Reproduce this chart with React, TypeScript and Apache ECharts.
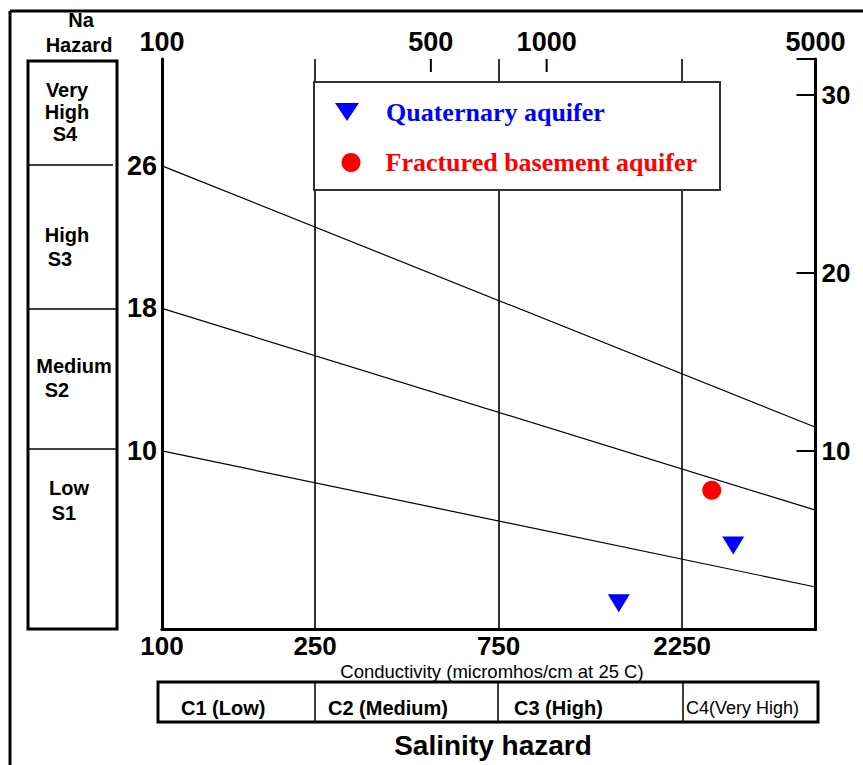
import React, { useEffect, useRef } from 'react';
import * as echarts from 'echarts';

// ---- data ----
const topTickLabels = [100, 500, 1000, 5000];
const topInnerTicks = [500, 1000];
const bottomTickLabels = [100, 250, 750, 2250];
const classBoundariesEC = [250, 750, 2250];
const leftSarLabels = [10, 18, 26];
const rightSarLabels = [10, 20, 30];

const quaternaryAquifer = [
  [1540, 1.44],
  [3056, 4.69],
];
const fracturedBasementAquifer = [[2687, 7.79]];

const boundaryS3S4 = [
  [100, 26],
  [5000, 11.33],
];
const boundaryS2S3 = [
  [100, 18],
  [5000, 6.67],
];
const boundaryS1S2 = [
  [100, 10],
  [5000, 2.36],
];

const salinityClasses = ['C1 (Low)', 'C2 (Medium)', 'C3 (High)', 'C4(Very High)'];
const sodiumClassLines = ['Very', 'High', 'S4', 'High', 'S3', 'Medium', 'S2', 'Low', 'S1'];

const SANS = '"Liberation Sans", Arial, sans-serif';
const SERIF = '"Liberation Serif", "Times New Roman", serif';

export default function App() {
  const ref = useRef<HTMLDivElement>(null);

  useEffect(() => {
    document.body.style.margin = '0';
    if (!ref.current) return;
    const chart = echarts.init(ref.current, undefined, { renderer: 'svg' });

    const axisLabelBase = {
      color: '#000',
      fontFamily: SANS,
      fontWeight: 'bold' as const,
      fontSize: 27,
    };

    const txt = (text: string, x: number, y: number, font: string, align = 'center') => ({
      type: 'text',
      x,
      y,
      z: 20,
      style: { text, font, fill: '#000', align, verticalAlign: 'middle' },
    });
    const ln = (x1: number, y1: number, x2: number, y2: number, w: number) => ({
      type: 'line',
      z: 20,
      shape: { x1, y1, x2, y2 },
      style: { stroke: '#000', lineWidth: w },
    });

    const naPos: [number, number][] = [
      [67, 90], [67, 112], [65, 134],
      [67, 235], [60, 259],
      [74, 366], [57, 390],
      [69, 488], [64, 513],
    ];
    const salPos = [181, 328, 514, 686];
    const salDividers = [315, 498, 683];

    const baseGraphics: any[] = [
      // outer frame
      ln(10, 11, 10, 765, 3),
      ln(10, 11, 863, 11, 3),
      // legend box
      {
        type: 'rect',
        z: 15,
        shape: { x: 314, y: 82, width: 406, height: 108 },
        style: { fill: '#fff', stroke: '#333', lineWidth: 2 },
      },
      // Na hazard box
      {
        type: 'rect',
        z: 20,
        shape: { x: 28, y: 61, width: 89, height: 568 },
        style: { fill: 'none', stroke: '#000', lineWidth: 3 },
      },
      ln(28, 165, 113, 165, 1.5),
      ln(28, 309, 117, 309, 1.5),
      ln(28, 449, 117, 449, 1.5),
      txt('Na', 81, 20, `bold 20px ${SANS}`),
      txt('Hazard', 79, 45, `bold 20px ${SANS}`),
      ...sodiumClassLines.map((s, i) => txt(s, naPos[i][0], naPos[i][1], `bold 20px ${SANS}`)),
      // salinity box
      {
        type: 'rect',
        z: 20,
        shape: { x: 158, y: 682, width: 660, height: 40 },
        style: { fill: 'none', stroke: '#000', lineWidth: 3 },
      },
      ...salDividers.map((x) => ln(x, 682, x, 722, 1.5)),
      ...salinityClasses.map((s, i) =>
        txt(s, salPos[i], 708, i === 3 ? `18px ${SANS}` : `bold 20px ${SANS}`, 'left')
      ),
      txt('Conductivity (micromhos/cm at 25 C)', 492, 671, `18.5px ${SANS}`),
      txt('Salinity hazard', 493, 745, `bold 28px ${SANS}`),
    ];

    const option: any = {
      animation: false,
      grid: { left: 162, top: 59, right: 47.5, bottom: 136 },
      xAxis: [
        {
          type: 'log',
          logBase: 10,
          position: 'bottom',
          min: 100,
          max: 5000,
          axisLine: { show: true, lineStyle: { color: '#000', width: 3 } },
          axisTick: { show: false },
          minorTick: { show: false },
          splitLine: { show: false },
          axisLabel: {
            ...axisLabelBase,
            fontSize: 26,
            customValues: bottomTickLabels,
            margin: 7,
            lineHeight: 20,
            formatter: (v: number) => String(Math.round(v)),
          },
        },
        {
          type: 'log',
          logBase: 10,
          position: 'top',
          min: 100,
          max: 5000,
          axisLine: { show: true, lineStyle: { color: '#000', width: 3 } },
          axisTick: { show: false },
          minorTick: { show: false },
          splitLine: { show: false },
          axisLabel: {
            ...axisLabelBase,
            customValues: topTickLabels,
            margin: 4,
            formatter: (v: number) => String(Math.round(v)),
          },
        },
      ],
      yAxis: [
        {
          type: 'value',
          position: 'left',
          min: 0,
          max: 32,
          interval: 2,
          axisLine: { show: true, lineStyle: { color: '#000', width: 3 } },
          axisTick: { show: false },
          splitLine: { show: false },
          axisLabel: {
            ...axisLabelBase,
            margin: 5,
            formatter: (v: number) =>
              leftSarLabels.some((s) => Math.abs(s - v) < 1e-6) ? String(Math.round(v)) : '',
          },
        },
        {
          type: 'value',
          position: 'right',
          min: 0,
          max: 32,
          interval: 10,
          axisLine: { show: true, lineStyle: { color: '#000', width: 3 } },
          axisTick: { show: true, inside: true, length: 19, lineStyle: { color: '#000', width: 2 } },
          splitLine: { show: false },
          axisLabel: {
            ...axisLabelBase,
            fontSize: 26,
            margin: 6,
            formatter: (v: number) =>
              rightSarLabels.some((s) => Math.abs(s - v) < 1e-6) ? String(Math.round(v)) : '',
          },
        },
      ],
      legend: [
        {
          data: [
            {
              name: 'Quaternary aquifer',
              icon: 'path://M0,0 L24,0 L12,18 Z',
              textStyle: { color: '#0000ff' },
            },
          ],
          left: 335,
          top: 99,
          padding: 0,
          itemWidth: 24,
          itemHeight: 18,
          selectedMode: false,
          z: 30,
          formatter: (name: string) => '{g| }' + name,
          textStyle: {
            fontFamily: SERIF,
            fontWeight: 'bold',
            fontSize: 26,
            color: '#0000ff',
            rich: { g: { width: 22 } },
          },
        },
        {
          data: [{ name: 'Fractured basement aquifer', textStyle: { color: '#ff0000' } }],
          left: 341.5,
          top: 149.5,
          padding: 0,
          itemWidth: 19,
          itemHeight: 19,
          selectedMode: false,
          z: 30,
          formatter: (name: string) => '{g| }' + name,
          textStyle: {
            fontFamily: SERIF,
            fontWeight: 'bold',
            fontSize: 26,
            color: '#ff0000',
            rich: { g: { width: 20 } },
          },
        },
      ],
      series: [
        {
          name: 'S3/S4 boundary',
          type: 'line',
          xAxisIndex: 0,
          yAxisIndex: 0,
          data: boundaryS3S4,
          showSymbol: false,
          symbol: 'none',
          silent: true,
          lineStyle: { color: '#000', width: 1.2 },
          markLine: {
            silent: true,
            symbol: ['none', 'none'],
            label: { show: false },
            lineStyle: { color: '#000', width: 1.6, type: 'solid' },
            data: classBoundariesEC.map((v) => ({ xAxis: v })),
          },
        },
        {
          name: 'S2/S3 boundary',
          type: 'line',
          xAxisIndex: 0,
          yAxisIndex: 0,
          data: boundaryS2S3,
          showSymbol: false,
          symbol: 'none',
          silent: true,
          lineStyle: { color: '#000', width: 1.2 },
        },
        {
          name: 'S1/S2 boundary',
          type: 'line',
          xAxisIndex: 0,
          yAxisIndex: 0,
          data: boundaryS1S2,
          showSymbol: false,
          symbol: 'none',
          silent: true,
          lineStyle: { color: '#000', width: 1.2 },
        },
        {
          name: 'Quaternary aquifer',
          type: 'scatter',
          xAxisIndex: 0,
          yAxisIndex: 0,
          data: quaternaryAquifer,
          symbol: 'triangle',
          symbolRotate: 180,
          symbolSize: [22, 18],
          itemStyle: { color: '#0000ff', opacity: 1 },
          z: 5,
        },
        {
          name: 'Fractured basement aquifer',
          type: 'scatter',
          xAxisIndex: 0,
          yAxisIndex: 0,
          data: fracturedBasementAquifer,
          symbol: 'circle',
          symbolSize: 19,
          itemStyle: { color: '#ff0000', opacity: 1 },
          z: 5,
        },
      ],
      graphic: { elements: baseGraphics },
    };

    chart.setOption(option);

    // short inner ticks on the top (conductivity) axis, placed through the axis scale
    const yTop = chart.convertToPixel({ yAxisIndex: 0 }, 32) as number;
    const tickGraphics = topInnerTicks.map((v) => {
      const x = chart.convertToPixel({ xAxisIndex: 1 }, v) as number;
      return ln(x, yTop, x, yTop + 13, 2);
    });
    chart.setOption({ graphic: { elements: [...baseGraphics, ...tickGraphics] } });

    return () => chart.dispose();
  }, []);

  return <div ref={ref} style={{ width: 863, height: 765 }} />;
}
